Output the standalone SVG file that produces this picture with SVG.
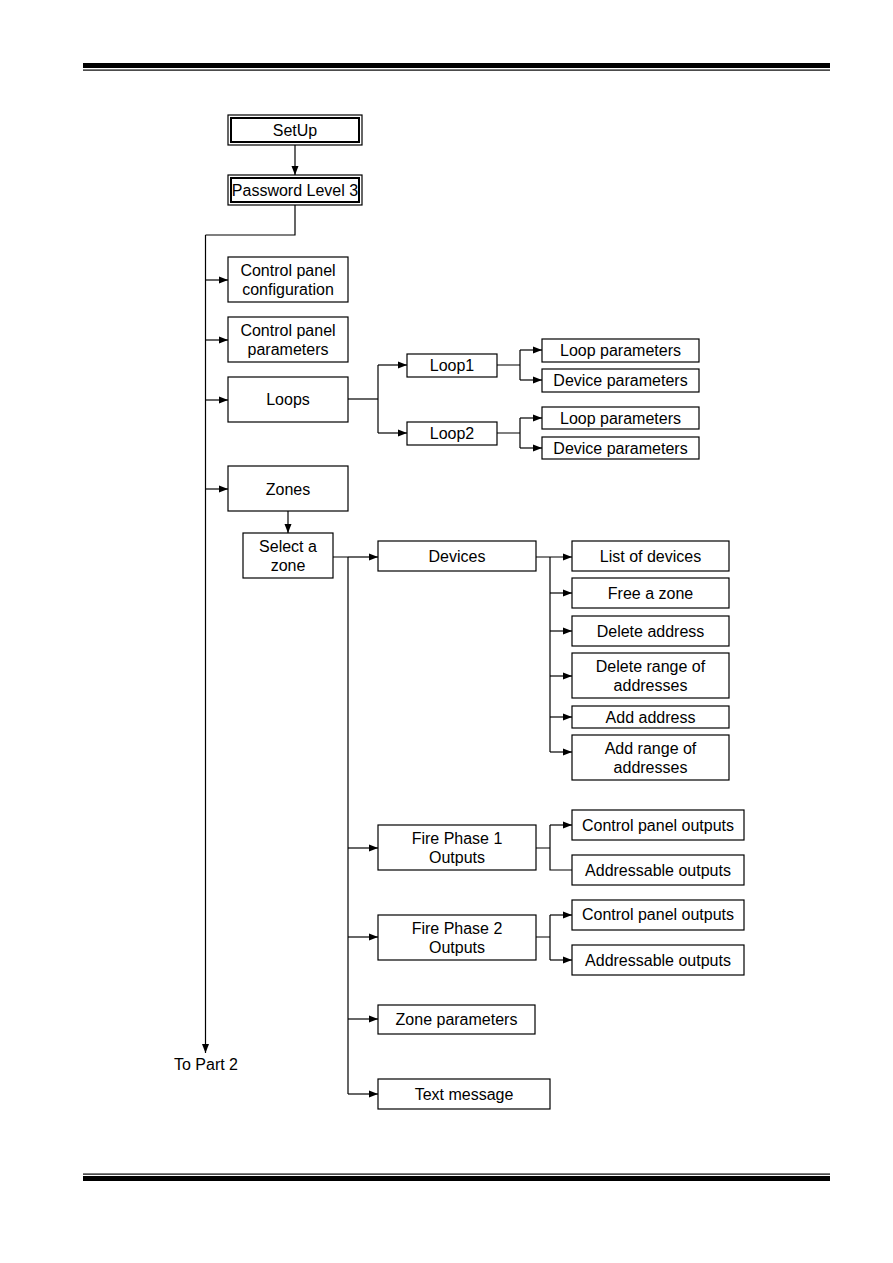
<svg xmlns="http://www.w3.org/2000/svg" width="893" height="1263" viewBox="0 0 893 1263">
<defs>
<marker id="ah" markerWidth="9" markerHeight="8" refX="9" refY="4" orient="auto" markerUnits="userSpaceOnUse">
<path d="M0,0.5 L9,4 L0,7.5 Z" fill="#000"/>
</marker>
<style>
.b{fill:#fff;stroke:#000;stroke-width:1.2}
.bi{fill:none;stroke:#000;stroke-width:2}
.t{font-family:"Liberation Sans",Arial,sans-serif;font-size:16px;fill:#000;text-anchor:middle;dominant-baseline:central}
.c{fill:none;stroke:#000;stroke-width:1.2}
.a{fill:none;stroke:#000;stroke-width:1.2;marker-end:url(#ah)}
</style>
</defs>
<rect width="893" height="1263" fill="#fff"/>
<g id="rules">
<rect x="83" y="63" width="747" height="5" fill="#000"/>
<rect x="83" y="69.5" width="747" height="1.2" fill="#000"/>
<rect x="83" y="1173.5" width="747" height="1.2" fill="#000"/>
<rect x="83" y="1176" width="747" height="5" fill="#000"/>
</g>
<g id="connectors">
<path class="a" d="M295,145 V175"/>
<path class="c" d="M295,205 V235 H205.5"/>
<path class="a" d="M205.5,235 V1053"/>
<path class="a" d="M205.5,280 H228"/>
<path class="a" d="M205.5,340 H228"/>
<path class="a" d="M205.5,400 H228"/>
<path class="a" d="M205.5,489 H228"/>
<path class="c" d="M348,399 H378"/>
<path class="c" d="M378,365 V433"/>
<path class="a" d="M378,365 H407"/>
<path class="a" d="M378,433 H407"/>
<path class="c" d="M497,365 H520 M520,350 V380"/>
<path class="a" d="M520,350 H542"/>
<path class="a" d="M520,380 H542"/>
<path class="c" d="M497,433 H520 M520,418 V448"/>
<path class="a" d="M520,418 H542"/>
<path class="a" d="M520,448 H542"/>
<path class="a" d="M288,511 V533"/>
<path class="c" d="M333,557 H348 M348,557 V1094"/>
<path class="a" d="M348,557 H378"/>
<path class="a" d="M536,557 H572"/>
<path class="c" d="M550,557 V752"/>
<path class="a" d="M550,593 H572"/>
<path class="a" d="M550,631 H572"/>
<path class="a" d="M550,676 H572"/>
<path class="a" d="M550,717 H572"/>
<path class="a" d="M550,752 H572"/>
<path class="a" d="M348,848 H378"/>
<path class="c" d="M536,848 H550 M550,825 V870 H572"/>
<path class="a" d="M550,825 H572"/>
<path class="a" d="M348,937 H378"/>
<path class="c" d="M536,937 H550 M550,915 V960"/>
<path class="a" d="M550,915 H572"/>
<path class="a" d="M550,960 H572"/>
<path class="a" d="M348,1019 H378"/>
<path class="a" d="M348,1094 H378"/>
</g>
<g id="setup"><rect class="b" x="228" y="115" width="134" height="30"/><rect class="bi" x="231" y="118" width="128" height="24"/><text class="t" x="295" y="130">SetUp</text></g>
<g id="password"><rect class="b" x="228" y="175" width="134" height="30"/><rect class="bi" x="231" y="178" width="128" height="24"/><text class="t" x="295" y="190">Password Level 3</text></g>
<g id="cp-config"><rect class="b" x="228" y="257" width="120" height="45"/><text class="t" x="288" y="270">Control panel</text><text class="t" x="288" y="289">configuration</text></g>
<g id="cp-params"><rect class="b" x="228" y="317" width="120" height="45"/><text class="t" x="288" y="330">Control panel</text><text class="t" x="288" y="349">parameters</text></g>
<g id="loops"><rect class="b" x="228" y="377" width="120" height="45"/><text class="t" x="288" y="399">Loops</text></g>
<g id="loop1"><rect class="b" x="407" y="354" width="90" height="23"/><text class="t" x="452" y="365">Loop1</text></g>
<g id="loop2"><rect class="b" x="407" y="422" width="90" height="23"/><text class="t" x="452" y="433">Loop2</text></g>
<g id="loop1-lp"><rect class="b" x="542" y="339" width="157" height="23"/><text class="t" x="620.5" y="350">Loop parameters</text></g>
<g id="loop1-dp"><rect class="b" x="542" y="369" width="157" height="23"/><text class="t" x="620.5" y="380">Device parameters</text></g>
<g id="loop2-lp"><rect class="b" x="542" y="407" width="157" height="22"/><text class="t" x="620.5" y="418">Loop parameters</text></g>
<g id="loop2-dp"><rect class="b" x="542" y="437" width="157" height="22"/><text class="t" x="620.5" y="448">Device parameters</text></g>
<g id="zones"><rect class="b" x="228" y="466" width="120" height="45"/><text class="t" x="288" y="489">Zones</text></g>
<g id="select-zone"><rect class="b" x="243" y="533" width="90" height="45"/><text class="t" x="288" y="546">Select a</text><text class="t" x="288" y="565">zone</text></g>
<g id="devices"><rect class="b" x="378" y="541" width="158" height="30"/><text class="t" x="457" y="556">Devices</text></g>
<g id="list-devices"><rect class="b" x="572" y="541" width="157" height="30"/><text class="t" x="650.5" y="556">List of devices</text></g>
<g id="free-zone"><rect class="b" x="572" y="578" width="157" height="30"/><text class="t" x="650.5" y="593">Free a zone</text></g>
<g id="delete-address"><rect class="b" x="572" y="616" width="157" height="30"/><text class="t" x="650.5" y="631">Delete address</text></g>
<g id="delete-range"><rect class="b" x="572" y="653" width="157" height="45"/><text class="t" x="650.5" y="666">Delete range of</text><text class="t" x="650.5" y="685">addresses</text></g>
<g id="add-address"><rect class="b" x="572" y="706" width="157" height="22"/><text class="t" x="650.5" y="717">Add address</text></g>
<g id="add-range"><rect class="b" x="572" y="735" width="157" height="45"/><text class="t" x="650.5" y="748">Add range of</text><text class="t" x="650.5" y="767">addresses</text></g>
<g id="fire1"><rect class="b" x="378" y="825" width="158" height="45"/><text class="t" x="457" y="838">Fire Phase 1</text><text class="t" x="457" y="857">Outputs</text></g>
<g id="fire1-cp"><rect class="b" x="572" y="810" width="172" height="30"/><text class="t" x="658" y="825">Control panel outputs</text></g>
<g id="fire1-addr"><rect class="b" x="572" y="855" width="172" height="30"/><text class="t" x="658" y="870">Addressable outputs</text></g>
<g id="fire2"><rect class="b" x="378" y="915" width="158" height="45"/><text class="t" x="457" y="928">Fire Phase 2</text><text class="t" x="457" y="947">Outputs</text></g>
<g id="fire2-cp"><rect class="b" x="572" y="900" width="172" height="30"/><text class="t" x="658" y="914">Control panel outputs</text></g>
<g id="fire2-addr"><rect class="b" x="572" y="945" width="172" height="30"/><text class="t" x="658" y="960">Addressable outputs</text></g>
<g id="zone-params"><rect class="b" x="378" y="1005" width="157" height="29"/><text class="t" x="456.5" y="1019">Zone parameters</text></g>
<g id="text-message"><rect class="b" x="378" y="1079" width="172" height="30"/><text class="t" x="464" y="1094">Text message</text></g>
<g id="to-part2"><text class="t" x="206" y="1064">To Part 2</text></g>
</svg>
